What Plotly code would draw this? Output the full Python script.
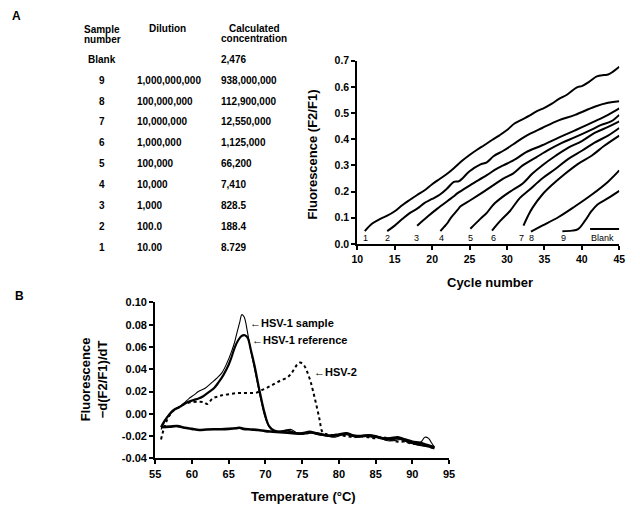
import plotly.graph_objects as go

W, H = 640, 511

# ---------------- Panel A table ----------------
sample_numbers = ["Blank", "9", "8", "7", "6", "5", "4", "3", "2", "1"]
dilutions = ["", "1,000,000,000", "100,000,000", "10,000,000", "1,000,000",
             "100,000", "10,000", "1,000", "100.0", "10.00"]
concentrations = ["2,476", "938,000,000", "112,900,000", "12,550,000", "1,125,000",
                  "66,200", "7,410", "828.5", "188.4", "8.729"]

# ---------------- Panel A amplification curves ----------------
c1_x = [11, 12, 13, 14, 15, 16, 17, 18, 19, 20, 21, 22, 23, 24, 25, 26, 27, 28, 29, 30,
        31, 32, 33, 34, 35, 36, 37, 38, 39, 39.5, 40, 41, 42, 43, 43.5, 44, 45]
c1_y = [0.049, 0.078, 0.095, 0.108, 0.125, 0.148, 0.168, 0.187, 0.205, 0.228, 0.248, 0.268,
        0.292, 0.318, 0.34, 0.36, 0.378, 0.397, 0.415, 0.435, 0.46, 0.475, 0.49, 0.507, 0.52,
        0.536, 0.555, 0.57, 0.592, 0.60, 0.603, 0.62, 0.64, 0.645, 0.647, 0.655, 0.677]
c2_x = [14, 15, 16, 17, 18, 19, 20, 21, 22, 22.9, 23.6, 25, 26.4, 27.3, 28.2, 29.5, 30.8,
        32.5, 34.7, 36.9, 39.1, 41.7, 43.5, 45]
c2_y = [0.049, 0.07, 0.095, 0.118, 0.135, 0.157, 0.172, 0.188, 0.212, 0.237, 0.24, 0.278,
        0.303, 0.312, 0.335, 0.356, 0.38, 0.412, 0.443, 0.472, 0.493, 0.524, 0.539, 0.545]
c3_x = [18, 19.4, 20.7, 22.1, 22.9, 23.4, 25.1, 27.3, 28.6, 29.5, 31.2, 32.5, 34.7, 36.9,
        39.1, 41.7, 43.5, 45]
c3_y = [0.07, 0.105, 0.135, 0.165, 0.182, 0.194, 0.225, 0.263, 0.287, 0.30, 0.325, 0.35,
        0.377, 0.406, 0.434, 0.468, 0.493, 0.518]
c4_x = [21.1, 21.6, 22.1, 22.5, 23.4, 23.8, 25.1, 26.9, 28.2, 29.5, 30.8, 32.1, 33.9, 35.6,
        37.4, 39.1, 41.3, 42.6, 43.9, 45]
c4_y = [0.049, 0.065, 0.082, 0.1, 0.13, 0.144, 0.167, 0.20, 0.225, 0.25, 0.269, 0.30, 0.331,
        0.36, 0.387, 0.408, 0.437, 0.455, 0.468, 0.493]
c5_x = [25.1, 26.4, 27.3, 28.2, 29.5, 30.8, 32.1, 33.4, 34.7, 36.5, 38.2, 40, 41.7, 43.5, 45]
c5_y = [0.058, 0.095, 0.119, 0.151, 0.182, 0.207, 0.231, 0.269, 0.30, 0.337, 0.368, 0.393,
        0.424, 0.447, 0.468]
c6_x = [28, 29.1, 30.4, 31.7, 33, 34.7, 36.5, 38.2, 40, 41.7, 43.5, 45]
c6_y = [0.051, 0.088, 0.126, 0.175, 0.207, 0.25, 0.287, 0.325, 0.356, 0.387, 0.414, 0.443]
c7_x = [32.2, 32.8, 33.4, 34.7, 36, 37.8, 39.5, 41.3, 43, 45]
c7_y = [0.070, 0.107, 0.138, 0.188, 0.225, 0.269, 0.306, 0.337, 0.375, 0.414]
c8_x = [33.2, 34.7, 36.9, 39.1, 41.3, 43.5, 45]
c8_y = [0.047, 0.07, 0.103, 0.144, 0.188, 0.238, 0.281]
c9_x = [37.4, 38.7, 39.5, 40.4, 41.3, 42.1, 43.5, 45]
c9_y = [0.049, 0.051, 0.057, 0.088, 0.126, 0.151, 0.175, 0.203]
blank_x = [41.1, 45]
blank_y = [0.057, 0.057]

curve_labels = ["1", "2", "3", "4", "5", "6", "7", "8", "9", "Blank"]
curve_label_x = [11.1, 14.0, 17.9, 21.2, 25.1, 28.2, 32.0, 33.3, 37.5, 42.7]
curve_label_y = 0.022

# ---------------- Panel B melting curves ----------------
s_x = [55.8, 56.3, 56.9, 57.5, 58.3, 59, 59.6, 60.3, 60.9, 61.8, 62.7, 63.4, 64.1, 64.8,
       65.4, 65.8, 66.1, 66.5, 66.8, 67.1, 67.6, 68, 68.5, 69.2, 69.9, 70.3, 70.8, 71.5,
       72.5, 73.5, 74.5, 75.5, 76.5, 77.5, 78.5, 79.5, 80.5, 81.5, 82.5, 83.5, 84.5, 85.5,
       86.5, 87.5, 88.5, 89.5, 90.5, 91.2, 91.7, 92.2, 92.6, 93]
s_y = [-0.014, -0.007, 0.0, 0.004, 0.0065, 0.01, 0.0137, 0.017, 0.02, 0.023, 0.028, 0.032,
       0.037, 0.046, 0.056, 0.064, 0.072, 0.082, 0.089, 0.087, 0.072, 0.057, 0.041, 0.018,
       -0.002, -0.009, -0.014, -0.016, -0.015, -0.014, -0.018, -0.018, -0.017, -0.019, -0.02,
       -0.021, -0.019, -0.019, -0.021, -0.02, -0.021, -0.021, -0.024, -0.024, -0.023, -0.026,
       -0.027, -0.025, -0.021, -0.022, -0.026, -0.03]
r_x = [55.8, 56.3, 56.9, 57.5, 58.3, 59, 59.6, 60.3, 60.9, 61.6, 62.3, 63, 63.6, 64.3, 65,
       65.4, 65.8, 66.3, 66.8, 67.2, 67.6, 68, 68.5, 69.2, 69.9, 70.5, 71.2, 72, 73, 74, 75,
       76, 77, 78, 79, 80, 81, 82, 83, 84, 85, 86, 87, 88, 89, 90, 91, 92, 93]
r_y = [-0.012, -0.006, -0.001, 0.003, 0.006, 0.009, 0.011, 0.0125, 0.0137, 0.016, 0.0195,
       0.023, 0.028, 0.035, 0.044, 0.051, 0.059, 0.066, 0.070, 0.0705, 0.068, 0.058, 0.044,
       0.021, 0.0006, -0.011, -0.015, -0.016, -0.015, -0.017, -0.018, -0.016, -0.018, -0.019,
       -0.02, -0.019, -0.018, -0.02, -0.02, -0.019, -0.02, -0.022, -0.023, -0.022, -0.024,
       -0.026, -0.028, -0.029, -0.031]
h2_x = [55.8, 56.3, 56.9, 57.5, 58.3, 59.2, 60, 61, 61.6, 62.1, 62.8, 63.5, 64.1, 65.2,
        66.3, 67.2, 68.1, 68.8, 69.4, 70.1, 70.8, 71.5, 72.1, 73, 73.5, 73.9, 74.3, 74.7,
        75.2, 75.6, 76.1, 76.5, 77, 77.4, 77.7, 78.2, 79, 80, 81, 82, 83, 84, 85, 86, 87, 88,
        89, 90, 91, 92, 93]
h2_y = [-0.023, -0.011, -0.002, 0.003, 0.006, 0.0093, 0.0105, 0.0108, 0.0105, 0.0088, 0.0137,
        0.0155, 0.0166, 0.0178, 0.0187, 0.0187, 0.0187, 0.019, 0.021, 0.023, 0.0254, 0.028,
        0.03, 0.0327, 0.036, 0.040, 0.044, 0.046, 0.044, 0.039, 0.03, 0.02, 0.006, -0.006,
        -0.0155, -0.018, -0.019, -0.019, -0.02, -0.021, -0.02, -0.021, -0.022, -0.021,
        -0.023, -0.025, -0.025, -0.027, -0.027, -0.029, -0.031]
b_x = [55.8, 57, 58, 59, 60, 61, 62, 63, 64, 65, 66, 66.5, 67, 68, 69, 70, 71, 72, 73, 74,
       75, 76, 77, 78, 79, 80, 81, 82, 83, 84, 85, 86, 87, 88, 89, 90, 91, 92, 93]
b_y = [-0.012, -0.0115, -0.011, -0.0125, -0.0135, -0.0145, -0.014, -0.0138, -0.0138,
       -0.0135, -0.013, -0.0125, -0.0135, -0.014, -0.0145, -0.0155, -0.016, -0.0165, -0.017,
       -0.0175, -0.0175, -0.0165, -0.0175, -0.019, -0.0195, -0.0185, -0.0175, -0.0195, -0.02,
       -0.0195, -0.0205, -0.022, -0.022, -0.021, -0.023, -0.025, -0.026, -0.028, -0.03]

b_ytick_vals = [-0.04, -0.02, 0.0, 0.02, 0.04, 0.06, 0.08, 0.10]
b_ytick_text = ["-0.04", "-0.02", "0.00", "0.02", "0.04", "0.06", "0.08", "0.10"]
a_ytick_vals = [0.0, 0.1, 0.2, 0.3, 0.4, 0.5, 0.6, 0.7]
a_xtick_vals = [10, 15, 20, 25, 30, 35, 40, 45]
b_xtick_vals = [55, 60, 65, 70, 75, 80, 85, 90, 95]

FONT = "Arial, Liberation Sans, sans-serif"


def px(xp):
    return xp / W


def py(yp):
    return 1 - yp / H


fig = go.Figure()

top_curves = [(c1_x, c1_y), (c2_x, c2_y), (c3_x, c3_y), (c4_x, c4_y), (c5_x, c5_y),
              (c6_x, c6_y), (c7_x, c7_y), (c8_x, c8_y), (c9_x, c9_y), (blank_x, blank_y)]
for cx, cy in top_curves:
    fig.add_trace(go.Scatter(x=cx, y=cy, mode="lines", line=dict(color="black", width=2),
                             line_shape="spline", xaxis="x", yaxis="y", showlegend=False,
                             hoverinfo="skip"))

fig.add_trace(go.Scatter(x=b_x, y=b_y, mode="lines", line=dict(color="black", width=2.6),
                         line_shape="spline", xaxis="x2", yaxis="y2", showlegend=False))
fig.add_trace(go.Scatter(x=h2_x, y=h2_y, mode="lines",
                         line=dict(color="black", width=2, dash="dot"),
                         line_shape="spline", xaxis="x2", yaxis="y2", showlegend=False))
fig.add_trace(go.Scatter(x=r_x, y=r_y, mode="lines", line=dict(color="black", width=2.2),
                         line_shape="spline", xaxis="x2", yaxis="y2", showlegend=False))
fig.add_trace(go.Scatter(x=s_x, y=s_y, mode="lines", line=dict(color="black", width=1.1),
                         line_shape="spline", xaxis="x2", yaxis="y2", showlegend=False))

axis_common = dict(showline=True, linecolor="black", linewidth=2, ticks="outside",
                   ticklen=4, tickwidth=1.5, tickcolor="black", showgrid=False,
                   zeroline=False, mirror=False)

annotations = []
# table
bold10 = dict(family=FONT, size=10, color="black", weight="bold")
annotations += [
    dict(x=px(98), y=py(24), text="Sample", xanchor="center"),
    dict(x=px(98), y=py(34), text="number", xanchor="center"),
    dict(x=px(165), y=py(23), text="Dilution", xanchor="center"),
    dict(x=px(253), y=py(23), text="Calculated", xanchor="center"),
    dict(x=px(253), y=py(33), text="concentration", xanchor="center"),
]
row_y = [55, 76.7, 97.7, 118.3, 139.3, 161.5, 183, 204.3, 225.7, 247.3]
for i in range(len(sample_numbers)):
    annotations.append(dict(x=px(98), y=py(row_y[i]), text=sample_numbers[i], xanchor="center"))
    if dilutions[i]:
        annotations.append(dict(x=px(131), y=py(row_y[i]), text=dilutions[i], xanchor="left"))
    annotations.append(dict(x=px(217), y=py(row_y[i]), text=concentrations[i], xanchor="left"))
for a in annotations:
    a.update(xref="paper", yref="paper", yanchor="middle", showarrow=False, font=bold10)

# panel labels
for lab, xx, yy in [("A", 11, 10), ("B", 14, 297)]:
    annotations.append(dict(x=px(xx), y=py(yy), xref="paper", yref="paper", text=lab,
                            showarrow=False, xanchor="center", yanchor="middle",
                            font=dict(family=FONT, size=12, color="black", weight="bold")))

# axis titles
title_font = dict(family=FONT, size=13, color="black", weight="bold")
annotations += [
    dict(x=px(312), y=py(152), xref="paper", yref="paper", text="Fluorescence (F2/F1)",
         textangle=-90, showarrow=False, xanchor="center", yanchor="middle", font=title_font),
    dict(x=px(493), y=py(283), xref="paper", yref="paper", text="Cycle number",
         showarrow=False, xanchor="center", yanchor="middle", font=title_font),
    dict(x=px(303), y=py(502), xref="paper", yref="paper", text="Temperature (°C)",
         showarrow=False, xanchor="center", yanchor="middle", font=title_font),
    dict(x=px(90), y=py(382), xref="paper", yref="paper",
         text="Fluorescence<br>\u2212d(F2/F1)/dT", textangle=-90, showarrow=False,
         xanchor="center", yanchor="middle", font=title_font),
]

# curve number labels
for lab, lx in zip(curve_labels, curve_label_x):
    annotations.append(dict(x=lx, y=curve_label_y, xref="x", yref="y", text=lab,
                            showarrow=False, xanchor="center", yanchor="middle",
                            font=dict(family=FONT, size=9, color="black")))

# melting-curve labels
lab_font = dict(family=FONT, size=11, color="black", weight="bold")
for txt, lx, ly in [("\u2190HSV-1 sample", 67.6, 0.0817), ("\u2190HSV-1 reference", 67.9, 0.0662),
                    ("\u2190HSV-2", 76.3, 0.0377)]:
    annotations.append(dict(x=lx, y=ly, xref="x2", yref="y2", text=txt, showarrow=False,
                            xanchor="left", yanchor="middle", font=lab_font))

tick_font_a = dict(family=FONT, size=10.5, color="black", weight="bold")
tick_font_b = dict(family=FONT, size=11, color="black", weight="bold")

fig.update_layout(
    width=W, height=H, margin=dict(l=0, r=0, t=0, b=0),
    paper_bgcolor="white", plot_bgcolor="white",
    xaxis=dict(domain=[358 / W, 625 / W], range=[10, 45], tickvals=a_xtick_vals,
               tickfont=tick_font_a, anchor="y", **axis_common),
    yaxis=dict(domain=[py(243.7), py(56)], range=[0, 0.7], tickvals=a_ytick_vals,
               tickformat=".1f", tickfont=tick_font_a, anchor="x", **axis_common),
    xaxis2=dict(domain=[152 / W, 451.6 / W], range=[55, 95], tickvals=b_xtick_vals,
                tickfont=tick_font_b, anchor="y2", **axis_common),
    yaxis2=dict(domain=[py(463.3), py(303.5)], range=[-0.04, 0.10], tickvals=b_ytick_vals,
                ticktext=b_ytick_text, tickfont=tick_font_b, anchor="x2", **axis_common),
    annotations=annotations,
    showlegend=False,
)

fig.write_html("out.html", config={"displayModeBar": False},
               post_script="document.body.style.margin='0px';document.body.style.overflow='hidden';")
